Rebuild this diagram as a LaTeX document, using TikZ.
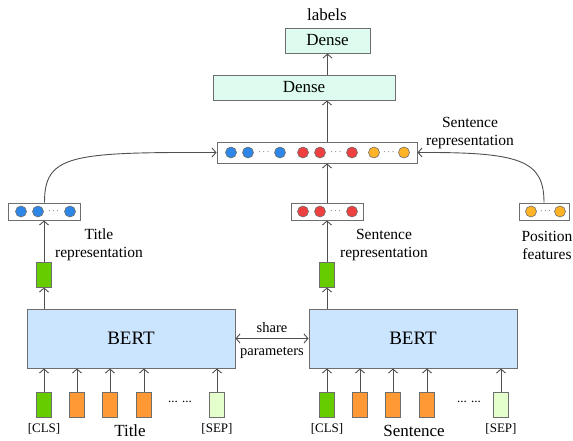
\documentclass[tikz,border=0pt]{standalone}
\usepackage{fontspec}
\setmainfont{Liberation Serif}
\usetikzlibrary{arrows.meta}
\definecolor{mint}{HTML}{DDFBEF}
\definecolor{bertblue}{HTML}{CCE5FF}
\definecolor{clsgreen}{HTML}{66CC00}
\definecolor{tokorange}{HTML}{FF9933}
\definecolor{sepgreen}{HTML}{E5FFCC}
\definecolor{dotblue}{HTML}{2E86E6}
\definecolor{dotred}{HTML}{EE4040}
\definecolor{dotorange}{HTML}{FFB326}
\definecolor{edge}{HTML}{6E6E6E}
\definecolor{wire}{HTML}{505050}
\tikzset{
    box/.style={draw=edge, line width=0.9pt, inner sep=0pt},
    dense/.style={box, fill=mint, minimum height=25, font=\rmfamily\fontsize{17}{20}\selectfont},
    bert/.style={box, fill=bertblue, minimum width=208, minimum height=59, font=\rmfamily\fontsize{19}{23}\selectfont},
    vecbox/.style={box, fill=white, minimum height=17},
    tok/.style={box, minimum width=15, minimum height=25},
    ball/.style={circle, draw=edge, line width=0.6pt, inner sep=0pt, minimum size=11},
    txt/.style={align=center, inner sep=0pt, font=\rmfamily\fontsize{15.5}{18}\selectfont},
    small/.style={inner sep=0pt, font=\rmfamily\fontsize{13}{15}\selectfont},
    link/.style={-{Straight Barb[length=4pt, width=9pt]}, draw=wire, line width=0.9pt},
}
\begin{document}
\begin{tikzpicture}[x=1pt, y=-1pt, font=\rmfamily]
    \useasboundingbox (0,0) rectangle (573,440);

    % top of the model
    \node[inner sep=0pt, font=\rmfamily\fontsize{17}{20}\selectfont] (lbl) at (327,15) {labels};
    \node[dense, minimum width=85] (dense2) at (327.5,40.5) {Dense};
    \node[dense, minimum width=182] (dense1) at (304,87.5) {Dense};

    % concatenated vector
    \node[vecbox, minimum width=200, minimum height=21] (cat) at (317,152.5) {};
    \foreach \n/\x/\c in {c1/231/dotblue, c2/248/dotblue, c3/280/dotblue,
        c4/303/dotred, c5/320/dotred, c6/352/dotred, c7/374/dotorange, c8/404/dotorange}
        \node[ball, fill=\c] (\n) at (\x,152.5) {};
    \foreach \n/\x in {d1/264, d2/336, d3/389}
        \node[inner sep=0pt, font=\small] (\n) at (\x,152.5) {$\cdots$};

    % the three inputs of the concatenation
    \node[vecbox, minimum width=72] (trep) at (44.5,211.5) {};
    \node[vecbox, minimum width=72] (srep) at (327,211.5) {};
    \node[vecbox, minimum width=50] (pos) at (544,211.5) {};
    \foreach \n/\x/\c in {t1/21/dotblue, t2/38/dotblue, t3/70/dotblue,
        s1/303/dotred, s2/320/dotred, s3/352/dotred, p1/531/dotorange, p2/560/dotorange}
        \node[ball, fill=\c] (\n) at (\x,211.5) {};
    \foreach \n/\x in {td/53.5, sd/335.5, pd/545.5}
        \node[inner sep=0pt, font=\small] (\n) at (\x,211.5) {$\cdots$};

    \node[txt] (tlab) at (99,245) {Title\\representation};
    \node[txt] (slab) at (384,245) {Sentence\\representation};
    \node[txt] (plab) at (547,245) {Position\\features};
    \node[txt] (clab) at (470,133) {Sentence\\representation};

    % [CLS] outputs
    \node[tok, fill=clsgreen] (gl) at (44,274.5) {};
    \node[tok, fill=clsgreen] (gr) at (327,274.5) {};

    % encoders
    \node[bert] (bl) at (131,338.5) {BERT};
    \node[bert] (br) at (413,338.5) {BERT};

    % input tokens
    \foreach \n/\x/\c in {a1/44/clsgreen, a2/77/tokorange, a3/110/tokorange, a4/144/tokorange, a5/217/sepgreen,
        b1/327/clsgreen, b2/360/tokorange, b3/393/tokorange, b4/427/tokorange, b5/501/sepgreen}
        \node[tok, fill=\c] (\n) at (\x,404.5) {};
    \node[small] (adots) at (180,402) {... ...};
    \node[small] (bdots) at (469,402) {... ...};

    \node[small] (acls) at (44,429) {[CLS]};
    \node[small] (asep) at (217,429) {[SEP]};
    \node[small] (bcls) at (327,429) {[CLS]};
    \node[small] (bsep) at (501,429) {[SEP]};
    \node[inner sep=0pt, font=\rmfamily\fontsize{17}{20}\selectfont] (atxt) at (130,431) {Title};
    \node[inner sep=0pt, font=\rmfamily\fontsize{17}{20}\selectfont] (btxt) at (414,431) {Sentence};

    % connectors
    \foreach \t in {a1,a2,a3,a4,a5}
        \draw[link] (\t.north) -- (\t.north |- bl.south);
    \foreach \t in {b1,b2,b3,b4,b5}
        \draw[link] (\t.north) -- (\t.north |- br.south);
    \draw[link] (gl.south |- bl.north) -- (gl.south);
    \draw[link] (gr.south |- br.north) -- (gr.south);
    \draw[link] (gl.north) -- (gl.north |- trep.south);
    \draw[link] (gr.north) -- (gr.north |- srep.south);
    \draw[link] (srep.north) -- (srep.north |- cat.south);
    \draw[link] (trep.north) .. controls (44.5,155) and (70,152) .. (cat.west);
    \draw[link] (pos.north) .. controls (544,160) and (520,152) .. (cat.east);
    \draw[link] (srep.north |- cat.north) -- (srep.north |- dense1.south);
    \draw[link] (dense2.south |- dense1.north) -- (dense2.south);
    \draw[link, {Straight Barb[length=4pt, width=9pt]}-{Straight Barb[length=4pt, width=9pt]}] (bl.east) -- (br.west)
        node[midway, yshift=11pt, font=\rmfamily\fontsize{14.5}{17}\selectfont] {share}
        node[midway, yshift=-14pt, font=\rmfamily\fontsize{14.5}{17}\selectfont] {parameters};
\end{tikzpicture}
\end{document}
